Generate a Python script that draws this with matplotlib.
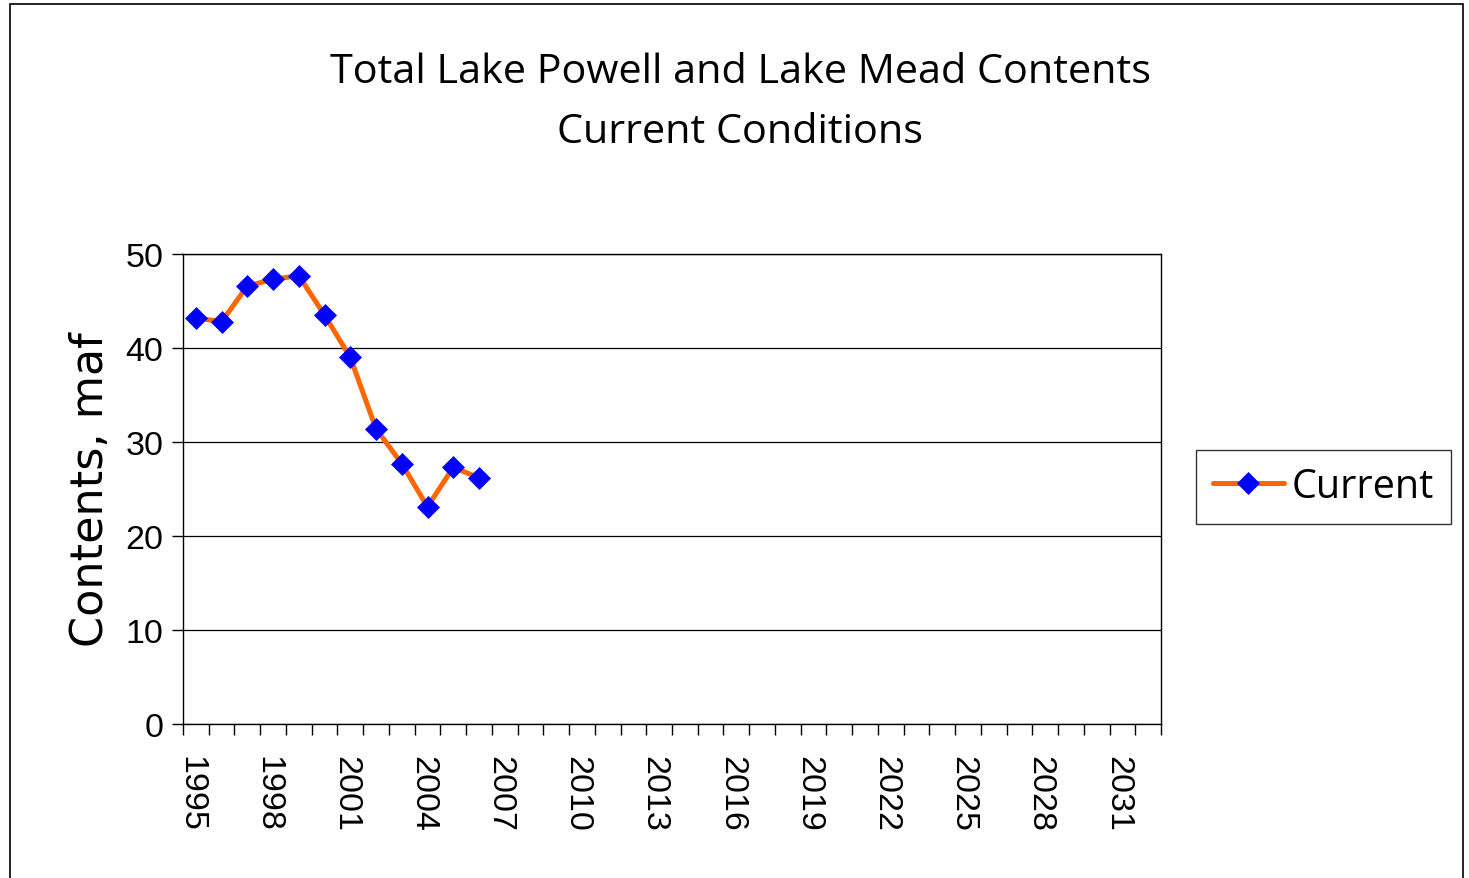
import matplotlib
matplotlib.use("Agg")
import matplotlib.pyplot as plt
from matplotlib.patches import Rectangle
from matplotlib.ticker import FixedLocator
from matplotlib.transforms import ScaledTranslation

years = list(range(1995, 2033))
data_years = [1995, 1996, 1997, 1998, 1999, 2000, 2001, 2002, 2003, 2004, 2005, 2006]
current = [43.2, 42.8, 46.6, 47.3, 47.7, 43.5, 39.0, 31.4, 27.7, 23.1, 27.3, 26.2]
y_ticks = [0, 10, 20, 30, 40, 50]
label_years = list(range(1995, 2033, 3))

W, H = 1469, 879
fig = plt.figure(figsize=(W / 100, H / 100), dpi=100)

# outer chart frame
fig.patches.append(Rectangle((10 / W, -0.01), (1463 - 10) / W, 1 - 5 / H + 0.01,
                             transform=fig.transFigure, fill=False,
                             edgecolor='black', linewidth=1.2))

ax = fig.add_axes([183 / W, 1 - 725 / H, (1161 - 183) / W, (725 - 255) / H])

xpos = [years.index(y) for y in data_years]
ax.plot(xpos, current, color='#FF6600', linewidth=3.6, marker='D',
        markersize=11.5, markerfacecolor='#0000FF', markeredgecolor='#0000FF',
        markeredgewidth=0.5,
        label='Current', solid_joinstyle='round', solid_capstyle='round')

ax.set_xlim(-0.5, len(years) - 0.5)
ax.set_ylim(0, 50)
ax.set_yticks(y_ticks)
ax.set_yticklabels([str(v) for v in y_ticks], fontsize=24.5, family='Liberation Sans')
ax.yaxis.grid(True, color='black', linewidth=0.9)
ax.set_axisbelow(True)

ax.set_xticks([years.index(y) for y in label_years])
ax.set_xticklabels([str(y) for y in label_years], rotation=-90, fontsize=24.5,
                   family='Liberation Sans', va='top', ha='center')
ax.xaxis.set_minor_locator(FixedLocator([i - 0.5 for i in range(len(years) + 1)]))
ax.tick_params(axis='x', which='major', length=0, pad=22)
ax.tick_params(axis='x', which='minor', length=8, width=1.0, direction='out')
ax.tick_params(axis='y', which='major', length=8, width=1.0, direction='out', pad=6)

for s in ax.spines.values():
    s.set_linewidth(1.0)
    s.set_color('black')

ax.set_ylabel('Contents, maf', fontsize=32, family='DejaVu Sans', labelpad=10)

fig.text(740 / W, 1 - 73 / H, 'Total Lake Powell and Lake Mead Contents',
         ha='center', va='center', fontsize=29.8, family='Open Sans')
fig.text(740 / W, 1 - 133 / H, 'Current Conditions',
         ha='center', va='center', fontsize=29.8, family='Open Sans')

leg = ax.legend(loc='center left', bbox_to_anchor=(1196 / W, 1 - 488 / H),
                bbox_transform=fig.transFigure, frameon=True,
                fancybox=False, edgecolor='black', handlelength=1.8,
                handletextpad=0.2, borderpad=0.42, borderaxespad=0,
                markerscale=0.95, prop={'family': 'Open Sans', 'size': 28.5})
leg.get_frame().set_linewidth(1.0)

# nudge rotated year labels left so glyphs sit centred under their category
fig.canvas.draw()
shift = ScaledTranslation(-5 / 100, 0, fig.dpi_scale_trans)
for tick in ax.xaxis.get_major_ticks():
    tick.label1.set_transform(tick.label1.get_transform() + shift)

fig.savefig('out.png', dpi=100)
